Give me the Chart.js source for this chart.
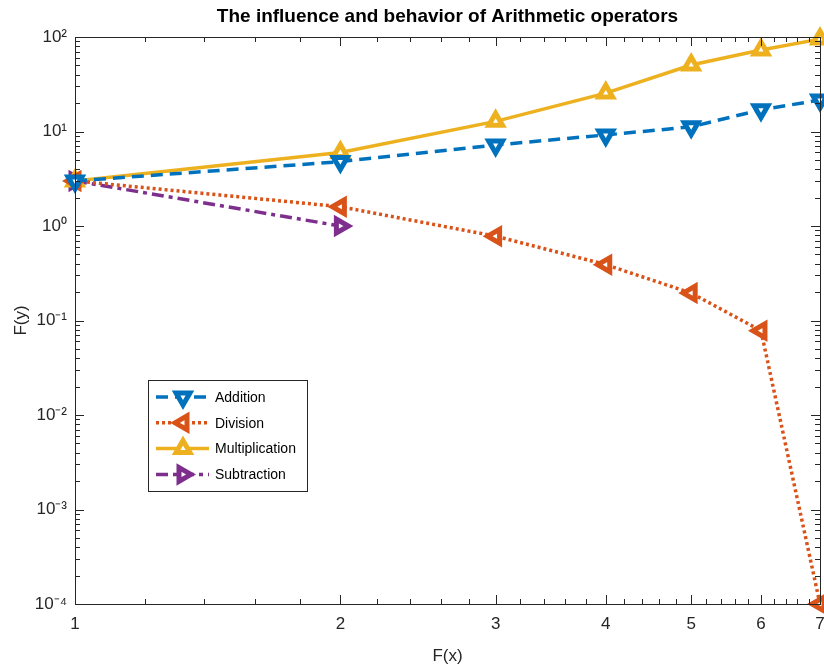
<!DOCTYPE html>
<html lang="en">
<head>
<meta charset="UTF-8">
<script src="https://cdn.jsdelivr.net/npm/chart.js"></script>
<title>The influence and behavior of Arithmetic operators</title>
<style>
    body { margin: 0; background: #fff; }
    .chart-wrapper { width: 824px; height: 672px; }
</style>
</head>
<body>

<div class="chart-wrapper">
    <canvas id="opsChart"></canvas>
</div>

<script>
// values
const xValues = [1, 2, 3, 4, 5, 6, 7];
const addition = [3, 4.8, 7.2, 9.2, 11.2, 17, 21.5];
const division = [3, 1.6, 0.78, 0.39, 0.195, 0.078, 0.0001];
const multiplication = [3, 6, 12.8, 25.5, 50.5, 73, 95];
const subtraction = [3, 1];
const seriesNames = ['Addition', 'Division', 'Multiplication', 'Subtraction'];

const xTickValues = [1, 2, 3, 4, 5, 6, 7];
const yTickValues = [1e-4, 1e-3, 1e-2, 1e-1, 1, 10, 100];
const yTickLabels = ['10⁻⁴', '10⁻³', '10⁻²', '10⁻¹', '10⁰', '10¹', '10²'];

const FONT = "'Liberation Sans', Arial, sans-serif";
const AXIS = '#262626';

function points(ys) {
    return ys.map((y, i) => ({ x: xValues[i], y: y }));
}

function series(label, ys, color, dash, rotation) {
    return {
        label: label,
        data: points(ys),
        borderColor: color,
        backgroundColor: color,
        borderWidth: 3.5,
        borderDash: dash,
        pointStyle: 'triangle',
        rotation: rotation,
        pointRadius: 8,
        pointHoverRadius: 8,
        pointBorderWidth: 5,
        pointBackgroundColor: '#fff',
        pointBorderColor: color,
        tension: 0,
        clip: false
    };
}

// inward tick marks and box, like the original figure
const frameTicks = {
    id: 'frameTicks',
    afterDraw(chart) {
        const { ctx, chartArea: a } = chart;
        const xs = chart.scales.x, ys = chart.scales.y;
        ctx.save();
        ctx.strokeStyle = AXIS;
        ctx.lineWidth = 1;
        ctx.setLineDash([]);
        ctx.strokeRect(Math.round(a.left) + 0.5, Math.round(a.top) + 0.5,
                       Math.round(a.width), Math.round(a.height));
        ctx.beginPath();
        for (let i = 10; i <= 70; i += 2) {
            const px = Math.round(xs.getPixelForValue(i / 10)) + 0.5;
            const len = i % 10 === 0 ? 9 : 5;
            ctx.moveTo(px, a.bottom); ctx.lineTo(px, a.bottom - len);
            ctx.moveTo(px, a.top); ctx.lineTo(px, a.top + len);
        }
        for (let d = -4; d <= 2; d++) {
            for (let k = 1; k <= 9; k++) {
                if (d === 2 && k > 1) break;
                const py = Math.round(ys.getPixelForValue(k * Math.pow(10, d))) + 0.5;
                const len = k === 1 ? 9 : 5;
                ctx.moveTo(a.left, py); ctx.lineTo(a.left + len, py);
                ctx.moveTo(a.right, py); ctx.lineTo(a.right - len, py);
            }
        }
        ctx.stroke();
        ctx.restore();
    }
};

// legend box inside the plot, lower left
const boxLegend = {
    id: 'boxLegend',
    afterDraw(chart) {
        const { ctx, chartArea: a } = chart;
        const x0 = a.left + 73, y0 = a.top + 343, w = 159, h = 111;
        ctx.save();
        ctx.fillStyle = '#fff';
        ctx.fillRect(x0, y0, w, h);
        ctx.strokeStyle = AXIS;
        ctx.lineWidth = 1;
        ctx.strokeRect(x0 + 0.5, y0 + 0.5, w, h);
        chart.data.datasets.forEach((ds, i) => {
            const y = y0 + 17 + i * 25.8;
            ctx.strokeStyle = ds.borderColor;
            ctx.lineWidth = ds.borderWidth;
            ctx.setLineDash(ds.borderDash || []);
            ctx.beginPath();
            ctx.moveTo(x0 + 8, y);
            ctx.lineTo(x0 + 61, y);
            ctx.stroke();
            ctx.setLineDash([]);
            ctx.fillStyle = '#fff';
            ctx.lineWidth = ds.pointBorderWidth;
            Chart.helpers.drawPoint(ctx, {
                pointStyle: 'triangle', rotation: ds.rotation,
                radius: ds.pointRadius, borderWidth: ds.pointBorderWidth
            }, x0 + 35, y);
            ctx.fillStyle = '#000';
            ctx.font = "14px " + FONT;
            ctx.textBaseline = 'middle';
            ctx.fillText(ds.label, x0 + 67, y + 1);
        });
        ctx.restore();
    }
};

const ctx = document.getElementById('opsChart').getContext('2d');
const opsChart = new Chart(ctx, {
    type: 'line',
    data: {
        datasets: [
            series(seriesNames[0], addition, '#0072BD', [12, 7], 180),
            series(seriesNames[1], division, '#D95319', [3, 3], 270),
            series(seriesNames[2], multiplication, '#EDB120', [], 0),
            series(seriesNames[3], subtraction, '#7E2F8E', [12, 5, 4, 5], 90)
        ]
    },
    options: {
        responsive: true,
        maintainAspectRatio: false,
        animation: false,
        layout: { autoPadding: false, padding: { left: 0, right: 4, top: 0, bottom: 0 } },
        plugins: {
            legend: { display: false },
            tooltip: { enabled: false },
            title: {
                display: true,
                fullSize: false,
                text: 'The influence and behavior of Arithmetic operators',
                color: '#000',
                font: { family: FONT, size: 19, weight: 'bold' },
                padding: { top: 5, bottom: 9.2 }
            }
        },
        scales: {
            x: {
                type: 'logarithmic',
                min: 1,
                max: 7,
                afterBuildTicks: (scale) => {
                    scale.ticks = xTickValues.map(v => ({ value: v }));
                },
                afterFit: (scale) => {
                    scale.height = 68;
                    scale.paddingLeft = 0;
                    scale.paddingRight = 0;
                },
                grid: { display: false, drawTicks: false },
                border: { display: false },
                ticks: {
                    color: '#262626',
                    font: { family: FONT, size: 17 },
                    padding: 10,
                    maxRotation: 0,
                    autoSkip: false,
                    callback: (v) => String(v)
                },
                title: {
                    display: true,
                    text: 'F(x)',
                    color: '#262626',
                    font: { family: FONT, size: 17 },
                    padding: { top: 0, bottom: 5 }
                }
            },
            y: {
                type: 'logarithmic',
                min: 1e-4,
                max: 100,
                afterBuildTicks: (scale) => {
                    scale.ticks = yTickValues.map(v => ({ value: v }));
                },
                afterFit: (scale) => { scale.width = 75; },
                grid: { display: false, drawTicks: false },
                border: { display: false },
                ticks: {
                    color: '#262626',
                    font: { family: FONT, size: 17 },
                    padding: 8,
                    autoSkip: false,
                    callback: (v, i) => yTickLabels[i]
                },
                title: {
                    display: true,
                    text: 'F(y)',
                    color: '#262626',
                    font: { family: FONT, size: 17 },
                    padding: { top: 11, bottom: 0 }
                }
            }
        }
    },
    plugins: [frameTicks, boxLegend]
});
</script>

</body>
</html>
